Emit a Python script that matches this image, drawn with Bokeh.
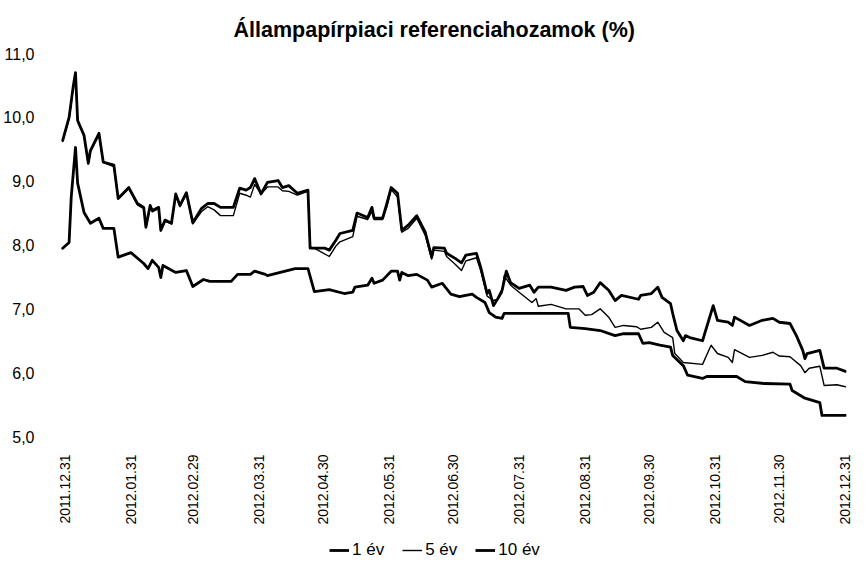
import math
import pandas as pd
from bokeh.plotting import figure
from bokeh.layouts import column
from bokeh.models import (ColumnDataSource, FixedTicker, DatetimeTickFormatter,
                          CustomJSTickFormatter, Legend, LegendItem, Range1d)
from bokeh.embed import file_html
from bokeh.resources import INLINE

TITLE = "Állampapírpiaci referenciahozamok (%)"
SERIES = ["1 év", "5 év", "10 év"]
TICK_DATES = ["2011-12-31", "2012-01-31", "2012-02-29", "2012-03-31", "2012-04-30",
              "2012-05-31", "2012-06-30", "2012-07-31", "2012-08-31", "2012-09-30",
              "2012-10-31", "2012-11-30", "2012-12-31"]
Y_TICKS = [5, 6, 7, 8, 9, 10, 11]

# 1 year
d1 = ["2011-12-30", "2012-01-02", "2012-01-03", "2012-01-05", "2012-01-06", "2012-01-09",
      "2012-01-12", "2012-01-16", "2012-01-18", "2012-01-23", "2012-01-25", "2012-01-31",
      "2012-02-06", "2012-02-08", "2012-02-10", "2012-02-13", "2012-02-14", "2012-02-15",
      "2012-02-21", "2012-02-26", "2012-02-29", "2012-03-05", "2012-03-08", "2012-03-18",
      "2012-03-21", "2012-03-27", "2012-03-29", "2012-04-03", "2012-04-04", "2012-04-10",
      "2012-04-17", "2012-04-23", "2012-04-26", "2012-05-03", "2012-05-10", "2012-05-14",
      "2012-05-15", "2012-05-21", "2012-05-23", "2012-05-24", "2012-05-28", "2012-06-01",
      "2012-06-04", "2012-06-05", "2012-06-06", "2012-06-09", "2012-06-13", "2012-06-18",
      "2012-06-20", "2012-06-25", "2012-06-29", "2012-07-03", "2012-07-09", "2012-07-11",
      "2012-07-15", "2012-07-17", "2012-07-20", "2012-07-23", "2012-07-24", "2012-08-06",
      "2012-08-23", "2012-08-24", "2012-08-31", "2012-09-07", "2012-09-14", "2012-09-18",
      "2012-09-25", "2012-09-27", "2012-09-30", "2012-10-05", "2012-10-10", "2012-10-11",
      "2012-10-16", "2012-10-18", "2012-10-25", "2012-10-27", "2012-11-10", "2012-11-14",
      "2012-11-23", "2012-12-05", "2012-12-06", "2012-12-12", "2012-12-19", "2012-12-20",
      "2012-12-31"]
v1 = [7.95, 8.04, 8.75, 9.53, 8.97, 8.51,
      8.34, 8.42, 8.26, 8.26, 7.81, 7.88,
      7.71, 7.63, 7.76, 7.65, 7.49, 7.68,
      7.57, 7.60, 7.35, 7.46, 7.43, 7.43,
      7.54, 7.54, 7.59, 7.54, 7.52, 7.57,
      7.63, 7.63, 7.27, 7.30, 7.24, 7.26,
      7.34, 7.37, 7.48, 7.40, 7.45, 7.59,
      7.59, 7.45, 7.57, 7.52, 7.54, 7.45,
      7.34, 7.40, 7.23, 7.19, 7.23, 7.18,
      7.10, 6.94, 6.87, 6.85, 6.93, 6.93,
      6.93, 6.71, 6.69, 6.66, 6.58, 6.61,
      6.61, 6.46, 6.47, 6.43, 6.40, 6.27,
      6.11, 5.96, 5.91, 5.94, 5.94, 5.86,
      5.83, 5.82, 5.72, 5.60, 5.53, 5.33,
      5.33]

# 5 years
d5 = ["2011-12-30", "2012-01-02", "2012-01-03", "2012-01-04", "2012-01-05", "2012-01-06",
      "2012-01-09", "2012-01-11", "2012-01-12", "2012-01-16", "2012-01-18", "2012-01-23",
      "2012-01-25", "2012-01-30", "2012-02-03", "2012-02-06", "2012-02-07", "2012-02-09",
      "2012-02-10", "2012-02-13", "2012-02-14", "2012-02-16", "2012-02-19", "2012-02-21",
      "2012-02-23", "2012-02-26", "2012-02-29", "2012-03-04", "2012-03-07", "2012-03-10",
      "2012-03-13", "2012-03-19", "2012-03-22", "2012-03-25", "2012-03-27", "2012-03-29",
      "2012-04-01", "2012-04-04", "2012-04-09", "2012-04-11", "2012-04-14", "2012-04-18",
      "2012-04-23", "2012-04-24", "2012-04-27", "2012-05-03", "2012-05-06", "2012-05-08",
      "2012-05-14", "2012-05-16", "2012-05-21", "2012-05-23", "2012-05-24", "2012-05-28",
      "2012-05-30", "2012-06-01", "2012-06-04", "2012-06-06", "2012-06-09", "2012-06-13",
      "2012-06-17", "2012-06-20", "2012-06-21", "2012-06-26", "2012-06-27", "2012-07-01",
      "2012-07-04", "2012-07-06", "2012-07-11", "2012-07-13", "2012-07-16", "2012-07-19",
      "2012-07-21", "2012-07-23", "2012-07-24", "2012-07-27", "2012-07-31", "2012-08-06",
      "2012-08-08", "2012-08-09", "2012-08-15", "2012-08-22", "2012-08-28", "2012-08-31",
      "2012-09-03", "2012-09-07", "2012-09-11", "2012-09-14", "2012-09-18", "2012-09-24",
      "2012-09-26", "2012-10-01", "2012-10-04", "2012-10-07", "2012-10-11", "2012-10-12",
      "2012-10-16", "2012-10-25", "2012-10-29", "2012-11-01", "2012-11-06", "2012-11-08",
      "2012-11-09", "2012-11-16", "2012-11-22", "2012-11-27", "2012-11-30", "2012-12-05",
      "2012-12-10", "2012-12-12", "2012-12-14", "2012-12-19", "2012-12-21", "2012-12-27",
      "2012-12-31"]
v5 = [9.62, 9.98, 10.22, 10.48, 10.68, 9.93,
      9.70, 9.27, 9.46, 9.73, 9.29, 9.23,
      8.72, 8.88, 8.63, 8.57, 8.27, 8.60,
      8.52, 8.57, 8.22, 8.37, 8.33, 8.78,
      8.60, 8.80, 8.33, 8.52, 8.60, 8.55,
      8.46, 8.46, 8.81, 8.78, 8.75, 8.95,
      8.80, 8.91, 8.91, 8.85, 8.84, 8.78,
      8.84, 7.97, 7.93, 7.82, 7.98, 8.05,
      8.13, 8.45, 8.40, 8.53, 8.40, 8.40,
      8.60, 8.87, 8.75, 8.20, 8.26, 8.42,
      8.15, 7.78, 7.92, 7.90, 7.82, 7.70,
      7.60, 7.75, 7.80, 7.60, 7.20, 7.13,
      7.15, 7.25, 7.52, 7.37, 7.26, 7.10,
      7.16, 7.04, 7.07, 7.00, 7.00, 6.90,
      6.91, 7.00, 6.87, 6.71, 6.74, 6.72,
      6.68, 6.71, 6.79, 6.63, 6.55, 6.30,
      6.16, 6.13, 6.43, 6.30, 6.24, 6.16,
      6.36, 6.24, 6.27, 6.32, 6.26, 6.25,
      6.11, 6.00, 6.07, 6.10, 5.80, 5.81,
      5.78]

# 10 years
d10 = ["2011-12-30", "2012-01-02", "2012-01-03", "2012-01-04", "2012-01-05", "2012-01-06",
       "2012-01-09", "2012-01-11", "2012-01-12", "2012-01-16", "2012-01-18", "2012-01-23",
       "2012-01-25", "2012-01-30", "2012-02-03", "2012-02-06", "2012-02-07", "2012-02-09",
       "2012-02-10", "2012-02-13", "2012-02-14", "2012-02-16", "2012-02-19", "2012-02-21",
       "2012-02-23", "2012-02-26", "2012-02-29", "2012-03-04", "2012-03-07", "2012-03-10",
       "2012-03-13", "2012-03-19", "2012-03-22", "2012-03-25", "2012-03-27", "2012-03-29",
       "2012-04-01", "2012-04-04", "2012-04-09", "2012-04-11", "2012-04-14", "2012-04-18",
       "2012-04-23", "2012-04-24", "2012-05-01", "2012-05-03", "2012-05-06", "2012-05-08",
       "2012-05-14", "2012-05-16", "2012-05-21", "2012-05-23", "2012-05-24", "2012-05-28",
       "2012-05-30", "2012-06-01", "2012-06-04", "2012-06-06", "2012-06-09", "2012-06-13",
       "2012-06-17", "2012-06-20", "2012-06-21", "2012-06-26", "2012-06-27", "2012-07-01",
       "2012-07-04", "2012-07-06", "2012-07-11", "2012-07-13", "2012-07-16", "2012-07-17",
       "2012-07-19", "2012-07-21", "2012-07-23", "2012-07-25", "2012-07-27", "2012-07-31",
       "2012-08-05", "2012-08-07", "2012-08-09", "2012-08-15", "2012-08-22", "2012-08-26",
       "2012-08-30", "2012-09-01", "2012-09-04", "2012-09-07", "2012-09-11", "2012-09-14",
       "2012-09-17", "2012-09-25", "2012-09-26", "2012-10-01", "2012-10-04", "2012-10-06",
       "2012-10-10", "2012-10-11", "2012-10-13", "2012-10-16", "2012-10-17", "2012-10-19",
       "2012-10-25", "2012-10-30", "2012-11-01", "2012-11-06", "2012-11-08", "2012-11-09",
       "2012-11-16", "2012-11-22", "2012-11-27", "2012-11-30", "2012-12-05", "2012-12-08",
       "2012-12-11", "2012-12-12", "2012-12-13", "2012-12-19", "2012-12-21", "2012-12-27",
       "2012-12-31"]
v10 = [9.64, 10.00, 10.25, 10.50, 10.70, 9.95,
       9.72, 9.28, 9.48, 9.75, 9.30, 9.25,
       8.73, 8.90, 8.65, 8.59, 8.28, 8.62,
       8.54, 8.59, 8.23, 8.39, 8.34, 8.80,
       8.62, 8.82, 8.35, 8.57, 8.65, 8.65,
       8.59, 8.59, 8.89, 8.86, 8.90, 9.04,
       8.80, 8.98, 9.01, 8.90, 8.93, 8.81,
       8.86, 7.95, 7.95, 7.92, 8.07, 8.18,
       8.23, 8.50, 8.43, 8.59, 8.42, 8.42,
       8.65, 8.90, 8.81, 8.23, 8.31, 8.46,
       8.20, 7.81, 7.96, 7.95, 7.87, 7.79,
       7.72, 7.84, 7.87, 7.65, 7.24, 7.29,
       7.05, 7.16, 7.29, 7.59, 7.41, 7.32,
       7.37, 7.26, 7.34, 7.34, 7.29, 7.34,
       7.35, 7.21, 7.26, 7.41, 7.29, 7.13,
       7.21, 7.15, 7.21, 7.24, 7.34, 7.18,
       7.08, 6.93, 6.66, 6.50, 6.58, 6.55,
       6.50, 7.05, 6.82, 6.79, 6.74, 6.87,
       6.74, 6.82, 6.85, 6.79, 6.77, 6.58,
       6.35, 6.22, 6.30, 6.35, 6.07, 6.07,
       6.02]

FONT = "Liberation Sans"
WIDTHS = [2.8, 1.4, 2.8]

p = figure(width=852, height=536, x_axis_type="datetime",
           output_backend="svg", toolbar_location=None,
           x_range=Range1d(pd.Timestamp("2011-12-28 12:00"), pd.Timestamp("2012-12-31 12:00")),
           y_range=Range1d(5, 11),
           min_border_left=0, min_border_right=6, min_border_top=53, min_border_bottom=100)

p.title.text = TITLE
p.title.align = "left"
p.title.offset = 174
p.title.standoff = 23
p.title.text_font = FONT
p.title.text_font_size = "21.5px"
p.title.text_font_style = "bold"
p.title.text_color = "#000000"

p.xgrid.visible = False
p.ygrid.visible = False
p.outline_line_color = None

renderers = []
for dates, vals, w in [(d1, v1, WIDTHS[0]), (d5, v5, WIDTHS[1]), (d10, v10, WIDTHS[2])]:
    src = ColumnDataSource(dict(x=pd.to_datetime(dates), y=vals))
    r = p.line("x", "y", source=src, line_color="#000000", line_width=w,
               line_join="round", line_cap="round")
    renderers.append(r)

# y axis
ya = p.yaxis[0]
ya.ticker = FixedTicker(ticks=Y_TICKS)
ya.formatter = CustomJSTickFormatter(code="return tick.toFixed(1).replace('.', ',');")
ya.axis_line_color = None
ya.major_tick_line_color = None
ya.minor_tick_line_color = None
ya.major_label_standoff = 19
ya.major_label_text_font = FONT
ya.major_label_text_font_size = "16px"
ya.major_label_text_color = "#000000"

# x axis
xa = p.xaxis[0]
tick_ms = [pd.Timestamp(d).value // 10**6 for d in TICK_DATES]
xa.ticker = FixedTicker(ticks=tick_ms)
fmt = "%Y.%m.%d"
xa.formatter = DatetimeTickFormatter(days=fmt, months=fmt, years=fmt, hours=fmt,
                                     hourmin=fmt, minutes=fmt, minsec=fmt, seconds=fmt,
                                     milliseconds=fmt, microseconds=fmt)
xa.major_label_orientation = math.pi / 2
xa.axis_line_color = None
xa.major_tick_line_color = None
xa.minor_tick_line_color = None
xa.major_label_standoff = 12
xa.major_label_text_font = FONT
xa.major_label_text_font_size = "14px"
xa.major_label_text_color = "#000000"

# legend strip: a separate small figure so that the legend is not clipped by the frame;
# its items reuse the same line styles via renderers whose data lies outside its ranges
lg = figure(width=852, height=24, output_backend="svg", toolbar_location=None,
            x_axis_location=None, y_axis_location=None,
            min_border_left=0, min_border_right=0, min_border_top=0, min_border_bottom=0,
            x_range=Range1d(0, 1), y_range=Range1d(0, 1))
lg.outline_line_color = None
lg.xgrid.visible = False
lg.ygrid.visible = False
items = []
for name, dates, vals, w in zip(SERIES, [d1, d5, d10], [v1, v5, v10], WIDTHS):
    src = ColumnDataSource(dict(x=[10 + i for i in range(len(vals))], y=vals))
    r = lg.line("x", "y", source=src, line_color="#000000", line_width=w)
    items.append(LegendItem(label=name, renderers=[r]))
legend = Legend(items=items, orientation="horizontal", location=(270, 0),
                label_text_font=FONT, label_text_font_size="17px", label_text_color="#000000",
                glyph_width=20, glyph_height=16, label_standoff=3, spacing=18,
                padding=0, margin=0, border_line_color=None, background_fill_alpha=0)
lg.add_layout(legend, "center")

layout = column(p, lg, spacing=0)
open("out.html", "w").write(file_html(layout, INLINE))
